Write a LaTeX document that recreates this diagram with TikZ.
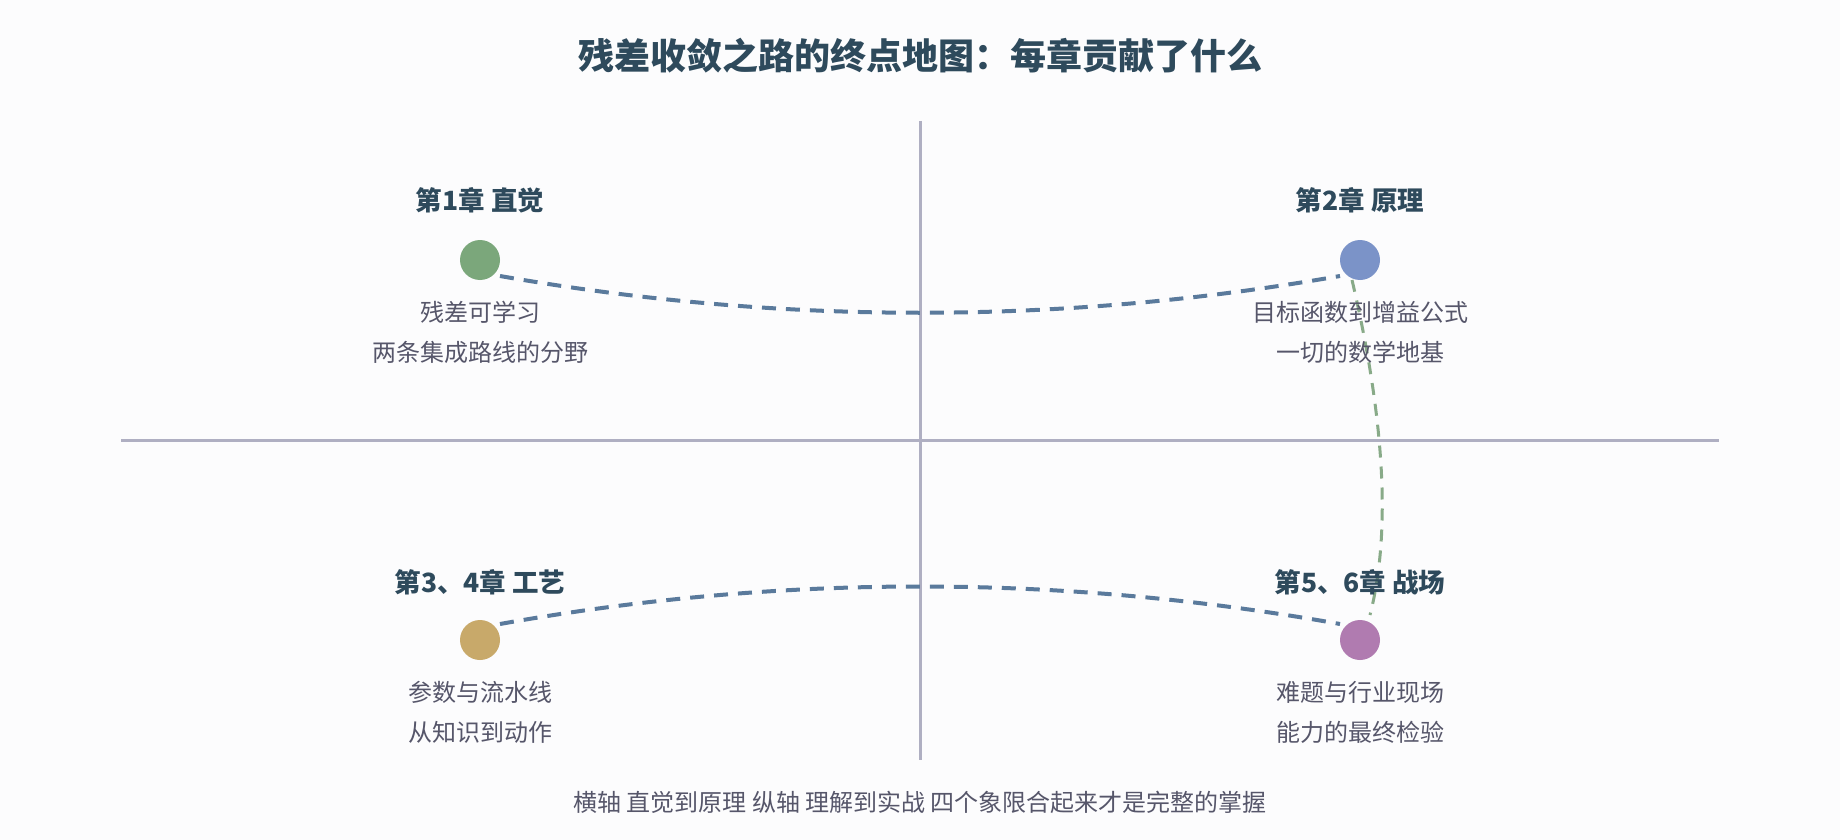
\documentclass[tikz,border=0pt]{standalone}
\usepackage{fontspec}
\setmainfont{Noto Sans CJK SC}
\usetikzlibrary{calc}

\definecolor{bgwhite}{HTML}{FCFCFD}
\definecolor{inkdark}{HTML}{2E4A5C}
\definecolor{inkgrey}{HTML}{56566A}
\definecolor{axisgrey}{HTML}{AFAFC2}
\definecolor{linkblue}{HTML}{5A7A9C}
\definecolor{linkgreen}{HTML}{88AA88}
\definecolor{dotgreen}{HTML}{7BA77B}
\definecolor{dotblue}{HTML}{7B93C8}
\definecolor{dotgold}{HTML}{C8A96A}
\definecolor{dotpurple}{HTML}{B07BB0}

\tikzset{
  chaplabel/.style={font=\fontsize{26.5}{30}\selectfont\bfseries, text=inkdark, inner sep=0pt},
  desctext/.style={font=\fontsize{24}{40}\selectfont, text=inkgrey, align=center, inner sep=0pt},
  chapdot/.style={circle, minimum size=40pt, inner sep=0pt, draw=none},
  blueline/.style={draw=linkblue, line width=4pt, dash pattern=on 14pt off 10pt},
  greenline/.style={draw=linkgreen, line width=3pt, dash pattern=on 12pt off 9pt},
  axisline/.style={draw=axisgrey, line width=3pt}
}

\begin{document}
\begin{tikzpicture}[x=1pt,y=-1pt]
        % Background and frame
        \fill[bgwhite] (0,0) rectangle (1840,840);
        \useasboundingbox (0,0) rectangle (1840,840);
        % Title
        \node[font=\fontsize{36}{40}\selectfont\bfseries, text=inkdark, inner sep=0pt] (title) at (920,56) {残差收敛之路的终点地图：每章贡献了什么};
        % Draw the axes
        \draw[axisline] (920,121) -- (920,760);
        \draw[axisline] (121,440) -- (1719,440);
        % Chapter dots
        \node[chapdot, fill=dotgreen] (ch1) at (480,260) {};
        \node[chapdot, fill=dotblue] (ch2) at (1360,260) {};
        \node[chapdot, fill=dotgold] (ch3) at (480,640) {};
        \node[chapdot, fill=dotpurple] (ch4) at (1360,640) {};
        % Dashed links between chapters
        \draw[blueline] ($(ch1)+(20,16)$) .. controls ($(ch1)+(300,65)$) and ($(ch2)+(-300,65)$) .. ($(ch2)+(-20,16)$);
        \draw[blueline] ($(ch3)+(20,-16)$) .. controls ($(ch3)+(300,-66)$) and ($(ch4)+(-300,-66)$) .. ($(ch4)+(-20,-16)$);
        \draw[greenline] ($(ch2)+(-8,20)$) .. controls ($(ch2)+(25,161)$) and ($(ch4)+(31,-107)$) .. ($(ch4)+(10,-25)$);
        % Chapter titles
        \node[chaplabel] (lbl1) at (480,200) {第1章 直觉};
        \node[chaplabel] (lbl2) at (1360,200) {第2章 原理};
        \node[chaplabel] (lbl3) at (480,582) {第3、4章 工艺};
        \node[chaplabel] (lbl4) at (1360,582) {第5、6章 战场};
        % What each chapter gives
        \node[desctext] (desc1) at (480,332.5) {残差可学习\\两条集成路线的分野};
        \node[desctext] (desc2) at (1360,332.5) {目标函数到增益公式\\一切的数学地基};
        \node[desctext] (desc3) at (480,712.5) {参数与流水线\\从知识到动作};
        \node[desctext] (desc4) at (1360,712.5) {难题与行业现场\\能力的最终检验};
        % Footer
        \node[font=\fontsize{24}{28}\selectfont, text=inkgrey, inner sep=0pt] (footer) at (920,802.5) {横轴 直觉到原理 纵轴 理解到实战 四个象限合起来才是完整的掌握};
    \end{tikzpicture}
\end{document}
